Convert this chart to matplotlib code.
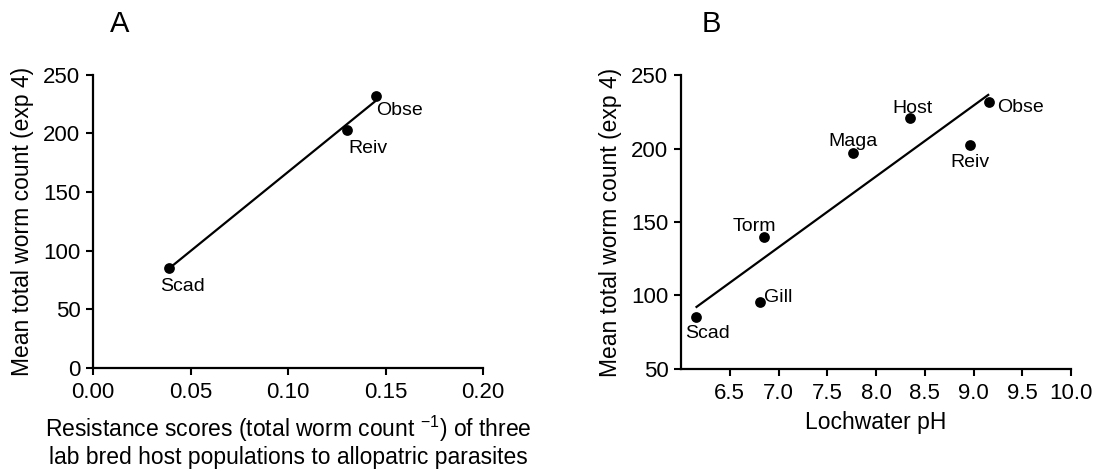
import numpy as np
import matplotlib
matplotlib.use("Agg")
import matplotlib.pyplot as plt

plt.rcParams['font.family'] = ['Liberation Sans', 'DejaVu Sans']
plt.rcParams['mathtext.fontset'] = 'custom'
plt.rcParams['mathtext.rm'] = 'Liberation Sans'
plt.rcParams['mathtext.it'] = 'Liberation Sans'

# Panel A data
a_names = ["Scad", "Reiv", "Obse"]
a_resist = [0.039, 0.130, 0.145]
a_worms = [85.5, 202.8, 231.8]

# Panel B data
b_names = ["Scad", "Gill", "Torm", "Maga", "Host", "Reiv", "Obse"]
b_ph = [6.15, 6.81, 6.85, 7.76, 8.35, 8.96, 9.16]
b_worms = [85.5, 95.3, 139.6, 197.1, 221.0, 202.3, 231.8]

a_xticks = [0.00, 0.05, 0.10, 0.15, 0.20]
a_yticks = [0, 50, 100, 150, 200, 250]
b_xticks = [6.5, 7.0, 7.5, 8.0, 8.5, 9.0, 9.5, 10.0]
b_yticks = [50, 100, 150, 200, 250]

# label offsets in pixels (dx, dy, ha)
a_offsets = {"Scad": (-9, -23, 'left'), "Reiv": (2, -22.7, 'left'), "Obse": (0.4, -19, 'left')}
b_offsets = {"Scad": (-10, -21.6, 'left'), "Gill": (4.3, 0.6, 'left'),
             "Torm": (-9.3, 6.3, 'center'), "Maga": (0.7, 7, 'center'),
             "Host": (2.2, 5.3, 'center'), "Reiv": (0, -21.4, 'center'),
             "Obse": (8, -10.3, 'left')}

W, H = 1103, 475
fig = plt.figure(figsize=(W / 100, H / 100), dpi=100)

axA = fig.add_axes([93 / W, (H - 368) / H, 390 / W, 293.3 / H])
axB = fig.add_axes([681 / W, (H - 368.7) / H, 390 / W, 293.4 / H])

def style(ax):
    for s in ['top', 'right']:
        ax.spines[s].set_visible(False)
    for s in ['left', 'bottom']:
        ax.spines[s].set_linewidth(1.6)
    ax.tick_params(axis='both', which='major', direction='out', length=5,
                   width=1.5, labelsize=16, color='black')
    ax.tick_params(axis='y', pad=4)
    ax.tick_params(axis='x', pad=5)

def draw(ax, x, y, names, offsets):
    x = np.array(x)
    y = np.array(y)
    k, b = np.polyfit(x, y, 1)
    xs = np.array([x.min(), x.max()])
    ax.plot(xs, k * xs + b, color='black', lw=1.6, solid_capstyle='butt', zorder=2)
    ax.scatter(x, y, s=60, color='black', zorder=3, linewidths=0)
    for xi, yi, n in zip(x, y, names):
        dx, dy, ha = offsets[n]
        ax.annotate(n, (xi, yi), xytext=(dx * 0.72, dy * 0.72),
                    textcoords='offset points', ha=ha, va='baseline', fontsize=14)

draw(axA, a_resist, a_worms, a_names, a_offsets)
style(axA)
axA.set_xlim(0, 0.20)
axA.set_ylim(0, 250)
axA.set_xticks(a_xticks)
axA.set_xticklabels([f"{v:.2f}" for v in a_xticks])
axA.set_yticks(a_yticks)
axA.set_ylabel("Mean total worm count (exp 4)", fontsize=16.5, labelpad=7)
axA.set_xlabel("Resistance scores (total worm count $^{-1}$) of three\n"
               "lab bred host populations to allopatric parasites",
               fontsize=16.5, labelpad=8, linespacing=1.1)

draw(axB, b_ph, b_worms, b_names, b_offsets)
style(axB)
axB.set_xlim(6.0, 10.0)
axB.set_ylim(50, 250)
axB.set_xticks(b_xticks)
axB.set_xticklabels([f"{v:.1f}" for v in b_xticks])
axB.set_yticks(b_yticks)
axB.set_ylabel("Mean total worm count (exp 4)", fontsize=16.5, labelpad=7)
axB.set_xlabel("Lochwater pH", fontsize=16.5, labelpad=5)

fig.text(110 / W, (H - 32.3) / H, "A", fontsize=21, va='baseline', ha='left')
fig.text(701.7 / W, (H - 32.3) / H, "B", fontsize=21, va='baseline', ha='left')

fig.savefig("out.png", dpi=100)
